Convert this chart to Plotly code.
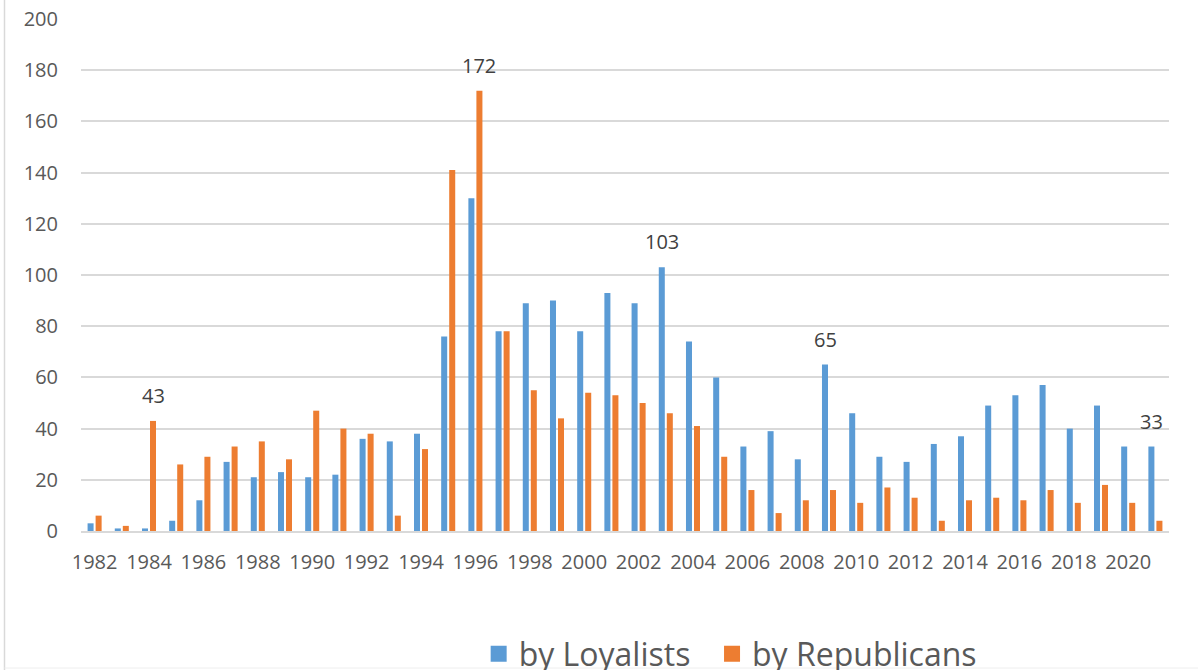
import plotly.graph_objects as go

years = list(range(1982, 2022))
loyalists = [3, 1, 1, 4, 12, 27, 21, 23, 21, 22, 36, 35, 38, 76, 130, 78, 89, 90, 78, 93,
             89, 103, 74, 60, 33, 39, 28, 65, 46, 29, 27, 34, 37, 49, 53, 57, 40, 49, 33, 33]
republicans = [6, 2, 43, 26, 29, 33, 35, 28, 47, 40, 38, 6, 32, 141, 172, 78, 55, 44, 54, 53,
               50, 46, 41, 29, 16, 7, 12, 16, 11, 17, 13, 4, 12, 13, 12, 16, 11, 18, 11, 4]
# highlighted labels
labels_rep = [1984, 1996]
labels_loy = [2003, 2009, 2021]

BLUE = "#5B9BD5"
ORANGE = "#ED7D31"
GRID = "#D9D9D9"
TXT = "#595959"
FONT = "Open Sans"

fig = go.Figure()
fig.add_trace(go.Bar(x=years, y=loyalists, name="by Loyalists", marker_color=BLUE,
                     marker_line_width=0, showlegend=False))
fig.add_trace(go.Bar(x=years, y=republicans, name="by Republicans", marker_color=ORANGE,
                     marker_line_width=0, showlegend=False))
# legend entries with bigger square swatches
fig.add_trace(go.Scatter(x=[None], y=[None], mode="markers", name="by Loyalists\u00a0\u00a0",
                         marker=dict(symbol="square", size=20, color=BLUE)))
fig.add_trace(go.Scatter(x=[None], y=[None], mode="markers", name="by Republicans",
                         marker=dict(symbol="square", size=20, color=ORANGE)))

for yr in labels_loy:
    v = loyalists[years.index(yr)]
    fig.add_annotation(x=yr, y=v, text=str(v), showarrow=False, xanchor="center",
                       yanchor="bottom", xshift=-4, yshift=10,
                       font=dict(family=FONT, size=20, color="#404040"))
for yr in labels_rep:
    v = republicans[years.index(yr)]
    fig.add_annotation(x=yr, y=v, text=str(v), showarrow=False, xanchor="center",
                       yanchor="bottom", xshift=4, yshift=10,
                       font=dict(family=FONT, size=20, color="#404040"))

# chart frame remnants (left and bottom border)
fig.add_shape(type="line", xref="paper", yref="paper",
              x0=-(81 - 4.5) / 1088, x1=-(81 - 4.5) / 1088, y0=-139 / 512, y1=(531 + 10) / 512,
              line=dict(color=GRID, width=1.5))
fig.add_shape(type="line", xref="paper", yref="paper",
              x0=-(81 - 4.5) / 1088, x1=1 + 29 / 1088, y0=-(668 - 531) / 512, y1=-(668 - 531) / 512,
              line=dict(color="#EEEEEE", width=1))

fig.update_layout(
    width=1198, height=670,
    margin=dict(l=81, r=29, t=19, b=139, autoexpand=False),
    paper_bgcolor="white", plot_bgcolor="white",
    barmode="group", bargap=0.41, bargroupgap=0.25,
    font=dict(family=FONT, size=20, color=TXT),
    legend=dict(orientation="h", x=0.3655, xanchor="left", y=-0.24, yanchor="middle",
                font=dict(family=FONT, size=32, color=TXT), bgcolor="rgba(0,0,0,0)"),
    xaxis=dict(range=[1981.5, 2021.5], tickmode="linear", tick0=1982, dtick=2,
               showgrid=False, showline=True, linecolor=GRID, linewidth=2,
               ticks="", ticklabelstandoff=12, tickfont=dict(family=FONT, size=20, color=TXT),
               zeroline=False),
    yaxis=dict(range=[0, 200], tickmode="linear", tick0=0, dtick=20,
               showgrid=True, gridcolor=GRID, gridwidth=1.5, zeroline=False,
               showline=False, ticks="", ticklabelstandoff=22,
               tickfont=dict(family=FONT, size=20, color=TXT)),
)

fig.write_html("out.html", config={"displayModeBar": False},
               post_script="document.body.style.margin='0';document.body.style.overflow='hidden';")
